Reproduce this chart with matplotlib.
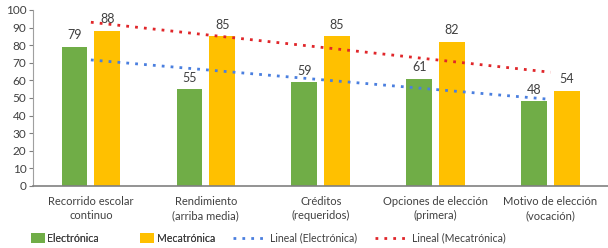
import numpy as np
import matplotlib.pyplot as plt

plt.rcParams['font.family'] = ['Lato', 'DejaVu Sans']

categories = ["Recorrido escolar\ncontinuo", "Rendimiento\n(arriba media)", "Créditos\n(requeridos)",
              "Opciones de elección\n(primera)", "Motivo de elección\n(vocación)"]
electronica = [79, 55, 59, 61, 48]
mecatronica = [88, 85, 85, 82, 54]

green = '#70AD47'
yellow = '#FFC000'
blue = '#4A7FDF'
red = '#E0262A'
text_col = '#404040'


def trend(values):
    x = np.arange(1, len(values) + 1)
    m, b = np.polyfit(x, values, 1)
    return x, m * x + b


def main():
    fig = plt.figure(figsize=(6.08, 2.48), dpi=100)
    ax = fig.add_axes([0.055, 0.25, 0.945, 0.71])

    x = np.arange(1, len(categories) + 1)
    w = 0.225
    gap = 0.03
    b1 = ax.bar(x - w / 2 - gap, electronica, w, color=green, label='Electrónica', zorder=2)
    b2 = ax.bar(x + w / 2 + gap, mecatronica, w, color=yellow, label='Mecatrónica', zorder=2)

    for bars, vals in ((b1, electronica), (b2, mecatronica)):
        for r, v in zip(bars, vals):
            ax.annotate(str(v), (r.get_x() + r.get_width() / 2, v), xytext=(0, 4),
                        textcoords='offset points', ha='center', va='bottom',
                        fontsize=9, color=text_col, zorder=4)

    tx, ty = trend(electronica)
    l1, = ax.plot(tx, ty, ls=(0, (1, 2.2)), lw=2, color=blue, label='Lineal (Electrónica)', zorder=3)
    tx, ty = trend(mecatronica)
    l2, = ax.plot(tx, ty, ls=(0, (1, 2.2)), lw=2, color=red, label='Lineal (Mecatrónica)', zorder=3)

    ax.set_xlim(0.5, len(categories) + 0.5)
    ax.set_ylim(0, 100)
    ax.set_yticks(range(0, 101, 10))
    ax.set_xticks(x)
    ax.set_xticklabels(categories, fontsize=8, color=text_col, linespacing=1.4)
    ax.tick_params(axis='y', labelsize=8.5, labelcolor=text_col, length=3, color='#808080', pad=2)
    ax.tick_params(axis='x', length=0, pad=7)
    for s in ('top', 'right'):
        ax.spines[s].set_visible(False)
    ax.spines['left'].set_color('#A0A0A0')
    ax.spines['bottom'].set_color('#808080')
    ax.spines['bottom'].set_linewidth(1.2)

    fs = 7.6
    leg1 = fig.legend([b1, b2], ['Electrónica', 'Mecatrónica'],
                      loc='center left', bbox_to_anchor=(0.051, 0.04), ncol=2, frameon=False,
                      fontsize=fs, labelcolor=text_col, handlelength=1.35, handleheight=0.95,
                      handletextpad=0.2, columnspacing=3.9, borderpad=0, borderaxespad=0)
    fig.legend([l1, l2], ['Lineal (Electrónica)', 'Lineal (Mecatrónica)'],
               loc='center left', bbox_to_anchor=(0.383, 0.04), ncol=2, frameon=False,
               fontsize=fs, labelcolor=text_col, handlelength=2.9,
               handletextpad=0.6, columnspacing=1.7, borderpad=0, borderaxespad=0)
    fig.add_artist(leg1)

    fig.savefig('out.png', dpi=100)


if __name__ == "__main__":
    main()
